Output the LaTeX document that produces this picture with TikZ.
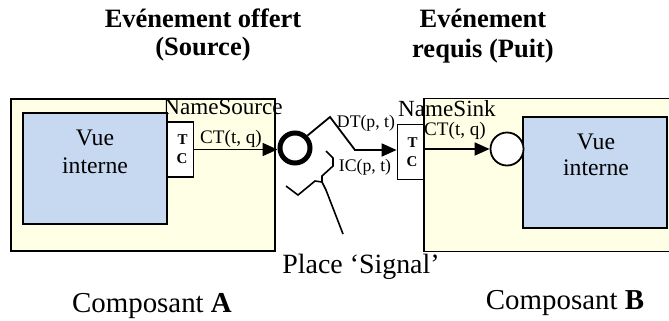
\documentclass[tikz,border=0pt]{standalone}
\usepackage{fontspec}
\setmainfont{Liberation Serif}
\usepackage{tikz}
\usetikzlibrary{positioning,arrows.meta,shapes}
\usetikzlibrary{calc}

\definecolor{compfill}{RGB}{255,255,230}
\definecolor{vuefill}{RGB}{198,217,241}

\tikzset{
  comp/.style={draw=black, line width=0.9bp, fill=compfill, inner sep=0pt},
  vue/.style={draw=black, line width=0.9bp, fill=vuefill, inner sep=0pt},
  tcbox/.style={draw=black, line width=0.9bp, fill=white, text width=7bp, align=right,
    inner xsep=3bp, minimum height=27.5bp, font=\fontsize{7.5}{9.5}\selectfont\bfseries},
  flow/.style={line width=0.9bp, arrows={-Triangle[length=7.5bp,width=6.5bp]}},
  brace/.style={line width=0.8bp, line join=miter},
  txt/.style={inner sep=0pt, align=center}
}

\begin{document}
\begin{tikzpicture}[x=0.5bp,y=-0.5bp]

    \useasboundingbox (0,0) rectangle (669,320);
    \clip (0,0) rectangle (669,320);

    % titres
    \node[txt, font=\fontsize{13.3}{14.5}\selectfont\bfseries] (titreA) at (203,35) {Evénement offert\\(Source)};
    \node[txt, font=\fontsize{13.3}{15}\selectfont\bfseries] (titreB) at (483,36) {Evénement\\requis (Puit)};

    % composant A
    \node[comp, minimum width=132bp, minimum height=76bp] (compA) at (143,175) {};
    \node[vue, minimum width=72bp, minimum height=55.5bp] (vueA) at (95,168.5) {};
    \node[txt, font=\fontsize{11.9}{14}\selectfont] (vueAtxt) at (95,152) {Vue\\interne};
    \node[tcbox] (tcA) at (180.5,149.5) {T\\C};
    \node[txt, font=\fontsize{11.6}{14}\selectfont] (nameA) at (223,107) {NameSource};

    % composant B
    \node[comp, minimum width=130bp, minimum height=76.5bp] (compB) at (554,175) {};
    \node[vue, minimum width=72bp, minimum height=55.5bp] (vueB) at (595,172.5) {};
    \node[txt, font=\fontsize{11.9}{13}\selectfont] (vueBtxt) at (596,155) {Vue\\interne};
    \node[tcbox] (tcB) at (410.5,152) {T\\C};
    \node[txt, font=\fontsize{11.6}{14}\selectfont] (nameB) at (447,109) {NameSink};

    % places
    \node[circle, draw=black, line width=2.5bp, minimum size=15bp, inner sep=0pt] (placeSrc) at (295,148) {};
    \node[circle, draw=black, line width=0.9bp, fill=white, minimum size=16.5bp, inner sep=0pt] (placeSink) at (507,149) {};

    \draw[flow] (tcA.east) -- (tcA.east -| placeSrc.west);
    \draw[flow] (tcB.east |- placeSink.west) -- (placeSink.west);
    \node[txt, font=\fontsize{9.6}{11}\selectfont] (ctA) at (231,139) {CT(t, q)};
    \node[txt, font=\fontsize{9.6}{11}\selectfont] (ctB) at (455,131) {CT(t, q)};

    % DT : place -> TC
    \coordinate (dt1) at (330,117);
    \coordinate (dt2) at (355,150);
    \draw[flow] (placeSrc.north east) -- (dt1) -- (dt2) -- (dt2 -| tcB.west);
    \node[txt, font=\fontsize{8.9}{10}\selectfont] (dtlbl) at (366,123) {DT(p, t)};
    \node[txt, font=\fontsize{8.9}{10}\selectfont] (iclbl) at (365,167) {IC(p, t)};

    % accolade + renvoi
    \coordinate (b1) at (326,151);
    \coordinate (b2) at (333,158);
    \coordinate (b3) at (333,166);
    \coordinate (b4) at (322,176);
    \coordinate (b5) at (322,182);
    \coordinate (z1) at (286,186);
    \coordinate (z2) at (298,195);
    \coordinate (z3) at (315,181);
    \coordinate (z4) at (326,190);
    \node[txt, font=\fontsize{14}{16}\selectfont] (placeSig) at (361,267) {Place ‘Signal’};
    \coordinate (z5) at (343,234);
    \draw[brace] (b1) -- (b2) -- (b3) -- (b4) -- (b5);
    \draw[brace] (z1) -- (z2) -- (z3) -- (b5) -- (z4) -- (z5);

    \node[txt, font=\fontsize{14.5}{16}\selectfont] (labA) at (152,306) {Composant \textbf{A}};
    \node[txt, font=\fontsize{14.5}{16}\selectfont] (labB) at (565,303) {Composant \textbf{B}};

\end{tikzpicture}
\end{document}
